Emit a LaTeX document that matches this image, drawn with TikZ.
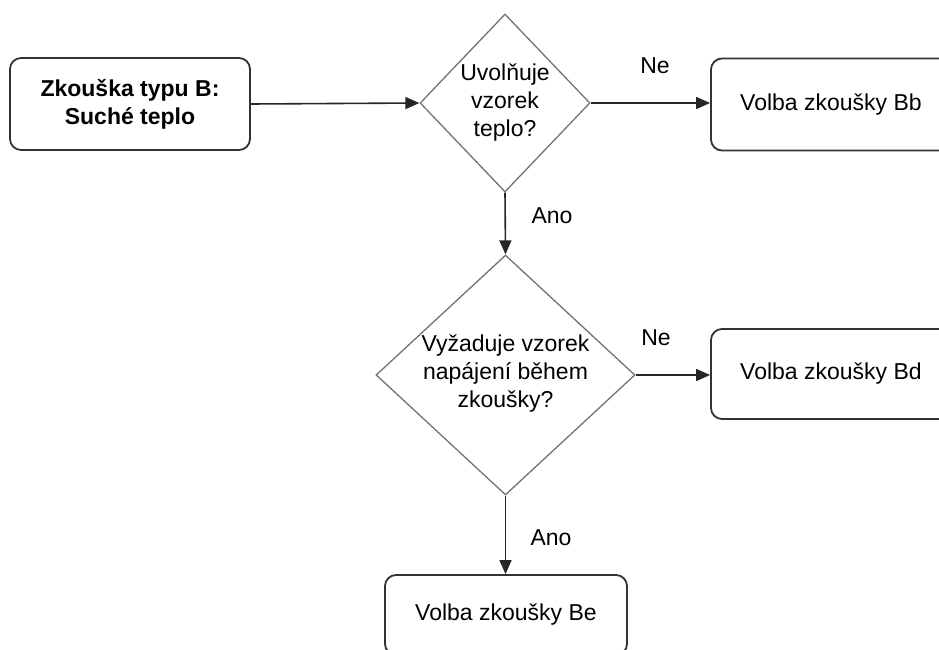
\documentclass[tikz,border=0pt]{standalone}
\usepackage{fontspec}
\setmainfont{Liberation Sans}
\usetikzlibrary{shapes.geometric,arrows.meta}
\begin{document}
\begin{tikzpicture}[x=1pt,y=-1pt,
  every node/.style={font=\fontsize{23}{28}\selectfont},
  box/.style={draw=black!80, line width=1.8pt, rounded corners=11pt, minimum width=240pt, minimum height=92pt, inner sep=0pt, align=center, fill=white},
  dia/.style={draw=black!55, line width=1.3pt, diamond, inner sep=0pt, fill=white},
  txt/.style={align=center, inner sep=0pt},
  conn/.style={draw=black!85, line width=1.6pt, -{Triangle[length=14pt,width=12pt]}},
  lbl/.style={inner sep=0pt}]
\useasboundingbox (0,0) rectangle (939,650);
\clip (0,0) rectangle (939,650);
\node[box] (start) at (130,104) {\textbf{Zkouška typu B:}\\\textbf{Suché teplo}};
\node[dia, minimum width=170pt, minimum height=178pt] (d1) at (505,103) {};
\node[txt] (d1t) at (d1.center) {Uvolňuje\\vzorek\\teplo?};
\node[box] (bb) at (831,104.5) {Volba zkoušky Bb};
\node[dia, minimum width=259pt, minimum height=240pt] (d2) at (505.5,375) {};
\node[txt] (d2t) at ([yshift=1pt]d2.center) {Vyžaduje vzorek\\napájení během\\zkoušky?};
\node[box, minimum height=90pt] (bd) at (831,374) {Volba zkoušky Bd};
\node[box, minimum width=242pt, minimum height=80pt] (be) at (506,615) {Volba zkoušky Be};
\draw[conn] (start.east) -- (d1.west);
\draw[conn] (d1.east) -- (bb.west |- d1.east);
\draw[conn] (d1.south) -- (d2.north);
\draw[conn] (d2.east) -- (bd.west |- d2.east);
\draw[conn] (d2.south) -- (be.north -| d2.south);
\node[lbl] (ne1) at (655,66) {Ne};
\node[lbl] (ano1) at (552,216) {Ano};
\node[lbl] (ne2) at (656,338) {Ne};
\node[lbl] (ano2) at (551,538) {Ano};
\end{tikzpicture}
\end{document}
